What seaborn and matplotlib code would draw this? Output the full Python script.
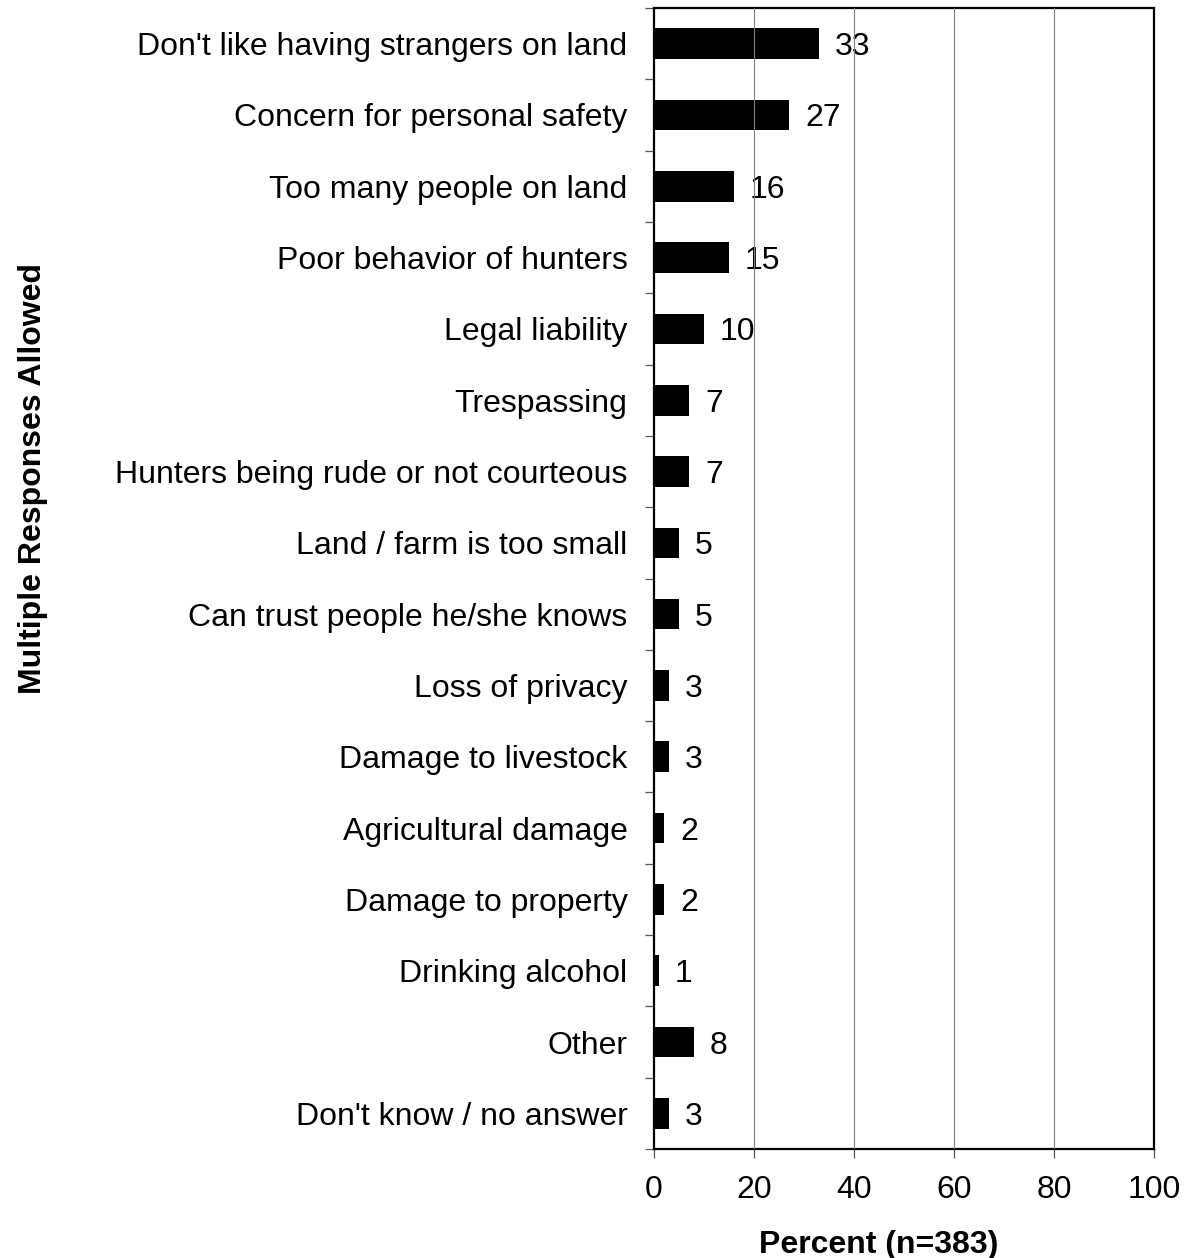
import numpy as np
import pandas as pd
import matplotlib
matplotlib.use("Agg")
import matplotlib.pyplot as plt
import seaborn as sns

categories = [
    "Don't like having strangers on land",
    "Concern for personal safety",
    "Too many people on land",
    "Poor behavior of hunters",
    "Legal liability",
    "Trespassing",
    "Hunters being rude or not courteous",
    "Land / farm is too small",
    "Can trust people he/she knows",
    "Loss of privacy",
    "Damage to livestock",
    "Agricultural damage",
    "Damage to property",
    "Drinking alcohol",
    "Other",
    "Don't know / no answer",
]
values = [33, 27, 16, 15, 10, 7, 7, 5, 5, 3, 3, 2, 2, 1, 8, 3]
xticks = [0, 20, 40, 60, 80, 100]

sns.set_theme(style="white")
plt.rcParams['font.family'] = ['Liberation Sans', 'DejaVu Sans']

df = pd.DataFrame({"category": categories, "value": values})

fig = plt.figure(figsize=(11.86, 12.58), dpi=100)
ax = fig.add_axes([654/1186, 1 - 1149/1258, 500/1186, 1141/1258])

sns.barplot(data=df, x="value", y="category", orient="h", color="black",
            width=0.43, ax=ax, saturation=1, edgecolor="black", linewidth=0)

ax.set_xlim(0, 100)
ax.set_ylim(len(categories) - 0.5, -0.5)
ax.set_xticks(xticks)
ax.set_xticklabels([str(t) for t in xticks])

for c in ax.containers:
    texts = ax.bar_label(c, labels=[str(v) for v in values], padding=11.5, fontsize=23,
                         color="black", zorder=2)
    for t in texts:
        t.set_va("center_baseline")

# gridlines
ax.grid(False)
for t in xticks[1:-1]:
    ax.axvline(t, color="#7f7f7f", linewidth=0.8, zorder=4)

# y ticks at category boundaries
ax.set_yticks(np.arange(len(categories)))
ax.set_yticks(np.arange(-0.5, len(categories), 1), minor=True)
ax.tick_params(axis="y", which="major", length=0, pad=19, labelsize=23, labelcolor="black")
ax.tick_params(axis="y", which="minor", length=6.5, width=0.9, color="#555555", left=True, direction="out")
ax.tick_params(axis="x", which="major", length=6.5, width=0.9, color="#555555", bottom=True, direction="out",
               pad=12.5, labelsize=23, labelcolor="black")
for lbl in ax.get_yticklabels():
    lbl.set_va("center_baseline")

for s in ax.spines.values():
    s.set_visible(True)
    s.set_color("black")
    s.set_linewidth(1.6)

ax.set_xlabel("Percent (n=383)", fontsize=23, fontweight="bold", color="black")
ax.set_ylabel("Multiple Responses Allowed", fontsize=23, fontweight="bold", color="black")
ax.xaxis.set_label_coords(0.449, -0.071)
ax.yaxis.set_label_coords(-1.212, 0.588)

fig.savefig("out.png", dpi=100, facecolor="white")
